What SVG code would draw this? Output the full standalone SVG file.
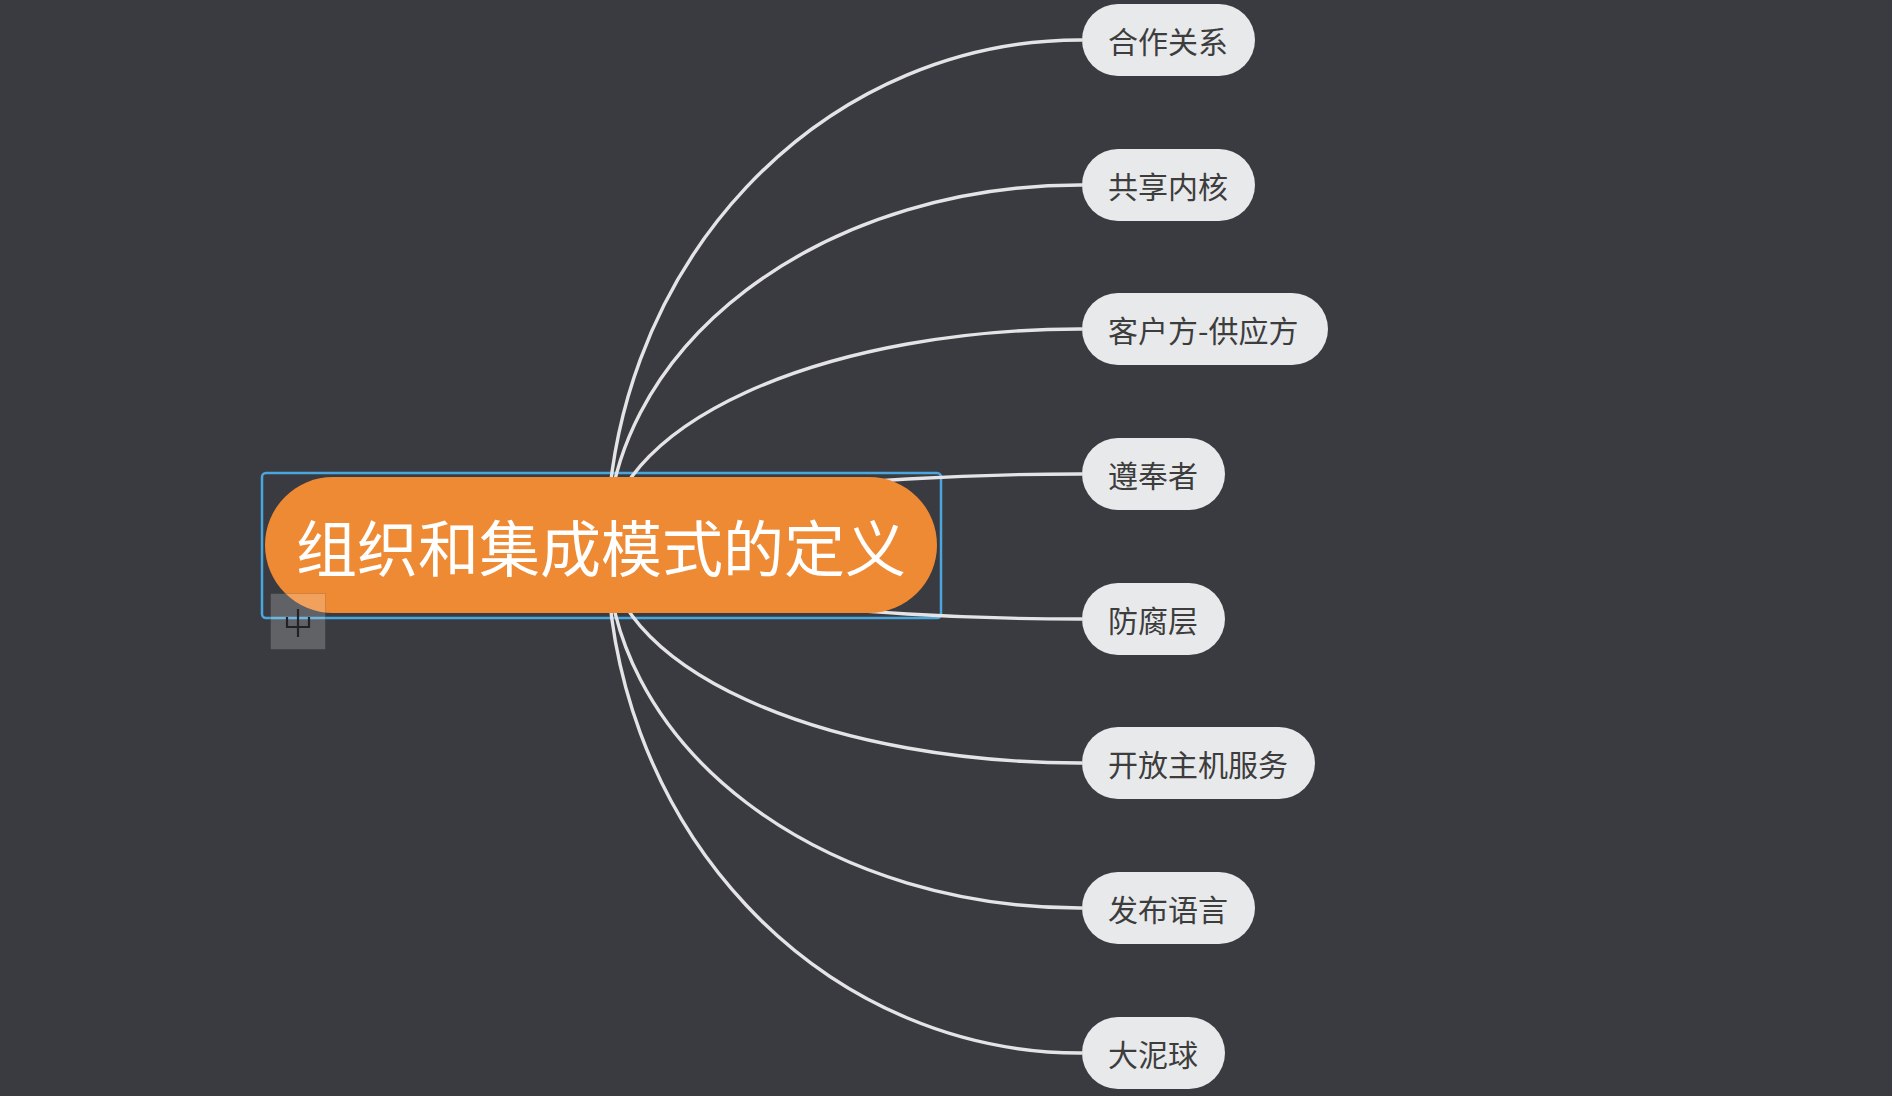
<svg xmlns="http://www.w3.org/2000/svg" width="1892" height="1096" viewBox="0 0 1892 1096">
<style>
.bg{fill:#3a3b40}
.conn{fill:none;stroke:#e4e4e6;stroke-width:3.4}
.child rect{fill:#e8e9eb}
.child text{font-family:"Microsoft YaHei","Noto Sans CJK SC",sans-serif;font-size:30px;fill:#3d3d3d}
.root-pill{fill:#ef8a34}
.root-text{font-family:"Microsoft YaHei","Noto Sans CJK SC",sans-serif;font-size:61px;fill:#ffffff}
.sel{fill:none;stroke:#4aa6dc;stroke-width:2.5}
</style>
<rect class="bg" x="0" y="0" width="1892" height="1096"/>
<rect class="sel" x="262" y="473" width="679" height="145" rx="4"/>
<g id="connectors">
<path class="conn" d="M607 546 A473 506 0 0 1 1082 40"/>
<path class="conn" d="M607 546 A473 361 0 0 1 1082 185"/>
<path class="conn" d="M607 546 A473 217 0 0 1 1082 329"/>
<path class="conn" d="M607 546 A473 72 0 0 1 1082 474"/>
<path class="conn" d="M607 546 A473 73 0 0 0 1082 619"/>
<path class="conn" d="M607 546 A473 217 0 0 0 1082 763"/>
<path class="conn" d="M607 546 A473 362 0 0 0 1082 908"/>
<path class="conn" d="M607 546 A473 507 0 0 0 1082 1053"/>
</g>
<g id="root">
<rect class="root-pill" x="265" y="477" width="672" height="136" rx="68"/>
<text class="root-text" x="601" y="572" text-anchor="middle">组织和集成模式的定义</text>
</g>
<g id="expander">
<rect x="270.5" y="593.5" width="55" height="56" fill="#ffffff" fill-opacity="0.2" stroke="#000000" stroke-opacity="0.12" stroke-width="1"/>
<path d="M298 609 V637 M287 617 V627 H309 V617" fill="none" stroke="#222326" stroke-width="2.2"/>
</g>
<g id="n1" class="child"><rect x="1082" y="4" width="173" height="72" rx="36"/><text x="1108" y="53">合作关系</text></g>
<g id="n2" class="child"><rect x="1082" y="149" width="173" height="72" rx="36"/><text x="1108" y="198">共享内核</text></g>
<g id="n3" class="child"><rect x="1082" y="293" width="246" height="72" rx="36"/><text x="1108" y="342">客户方-供应方</text></g>
<g id="n4" class="child"><rect x="1082" y="438" width="143" height="72" rx="36"/><text x="1108" y="487">遵奉者</text></g>
<g id="n5" class="child"><rect x="1082" y="583" width="143" height="72" rx="36"/><text x="1108" y="632">防腐层</text></g>
<g id="n6" class="child"><rect x="1082" y="727" width="233" height="72" rx="36"/><text x="1108" y="776">开放主机服务</text></g>
<g id="n7" class="child"><rect x="1082" y="872" width="173" height="72" rx="36"/><text x="1108" y="921">发布语言</text></g>
<g id="n8" class="child"><rect x="1082" y="1017" width="143" height="72" rx="36"/><text x="1108" y="1066">大泥球</text></g>
</svg>
